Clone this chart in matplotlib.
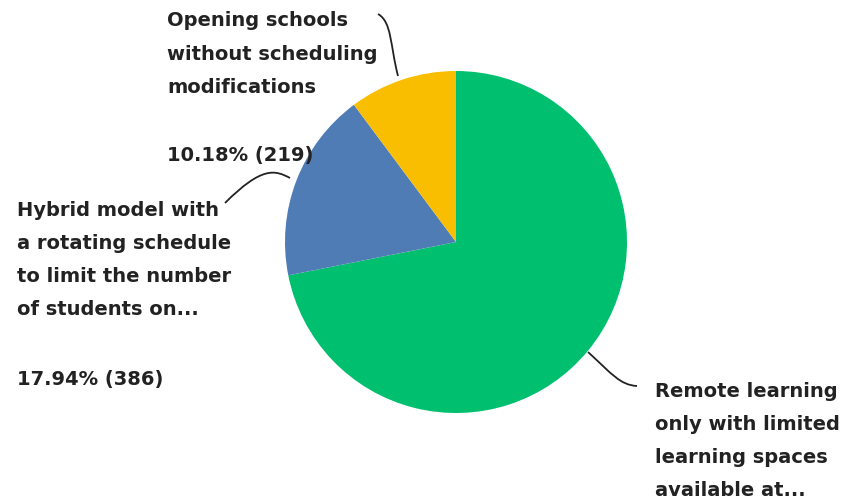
import matplotlib
matplotlib.use("Agg")
import matplotlib.pyplot as plt
import numpy as np
from matplotlib.path import Path
from matplotlib.patches import PathPatch

labels = ["Remote learning\nonly with limited\nlearning spaces\navailable at...",
          "Hybrid model with\na rotating schedule\nto limit the number\nof students on...",
          "Opening schools\nwithout scheduling\nmodifications"]
percents = [71.88, 17.94, 10.18]
counts = [1546, 386, 219]
colors = ["#00BF6F", "#507CB6", "#F9BE00"]

W, H = 848, 504
fig = plt.figure(figsize=(W / 100, H / 100), dpi=100)
ax = fig.add_axes([0, 0, 1, 1])

cx, cy, R = 456, H - 242, 171
ax.pie(counts, colors=colors, startangle=90, counterclock=False,
       center=(cx, cy), radius=R, frame=True,
       wedgeprops=dict(linewidth=0))
ax.set_xlim(0, W)
ax.set_ylim(0, H)
ax.set_aspect("equal")
ax.axis("off")

font = dict(family=["DejaVu Sans"], fontsize=14.0, fontweight="bold",
            color="#222222", linespacing=1.95)

def Y(y):
    return H - y

ax.text(167, Y(54), labels[2], ha="left", va="center", **font)
ax.text(167, Y(155), f"{percents[2]:.2f}% ({counts[2]})", ha="left", va="center", **font)
ax.text(17, Y(260), labels[1], ha="left", va="center", **font)
ax.text(17, Y(380), f"{percents[1]:.2f}% ({counts[1]})", ha="left", va="center", **font)
ax.text(655, Y(441), labels[0], ha="left", va="center", **font)

def curve(pts):
    verts = [(x, Y(y)) for x, y in pts]
    codes = [Path.MOVETO, Path.CURVE4, Path.CURVE4, Path.CURVE4]
    ax.add_patch(PathPatch(Path(verts, codes), fill=False, edgecolor="#222222", lw=1.3))

curve([(398, 76), (390, 45), (392, 22), (378, 14)])
curve([(290, 178), (275, 170), (262, 166), (225, 203)])
curve([(588, 352), (612, 374), (620, 385), (637, 386)])

fig.savefig("out.png", dpi=100, facecolor="white")
